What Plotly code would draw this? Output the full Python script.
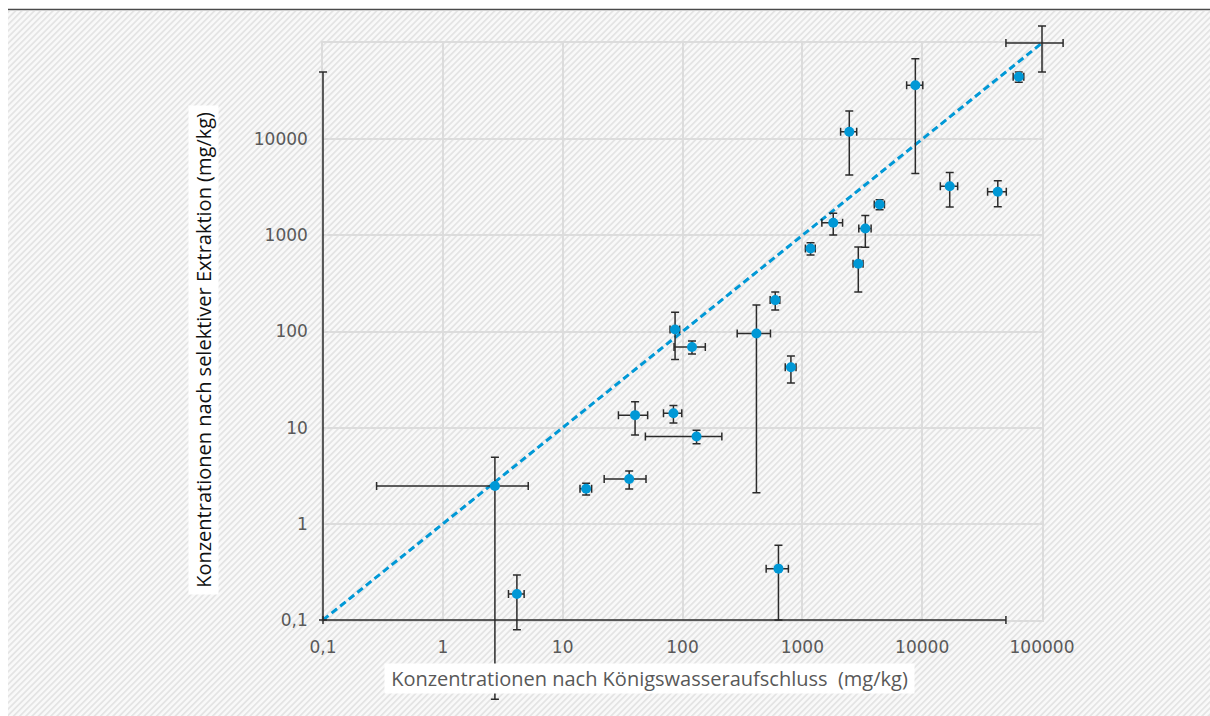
import base64
import plotly.graph_objects as go

# Königswasseraufschluss (x) vs. selektive Extraktion (y), mg/kg, mit Fehlerbalken
x_vals = [2.72, 4.15, 15.7, 131, 40.2, 84.0, 35.9, 86.7, 120, 414, 594, 803,
          632, 1171, 1811, 2931, 3354, 2465, 4414, 8770, 16980, 42760, 63970]
x_err = [2.44, 0.62, 1.75, 82, 11, 14.6, 13.7, 8, 35, 128, 55, 83,
         133, 110, 356, 280, 395, 378, 430, 1350, 2800, 7600, 6500]
y_vals = [2.47, 0.186, 2.32, 8.1, 13.5, 14.1, 2.92, 105, 69, 95.5, 212, 42.4,
          0.342, 731, 1352, 507, 1180, 11940, 2094, 36390, 3245, 2838, 44570]
y_err_plus = [2.455, 0.107, 0.33, 1.3, 5.1, 2.95, 0.62, 54, 10.6, 93.4, 45, 13.3,
              0.256, 106, 343, 250, 430, 7700, 250, 32000, 1270, 860, 5400]
y_err_minus = [2.455, 0.107, 0.33, 1.3, 5.1, 2.95, 0.62, 54, 10.6, 93.4, 45, 13.3,
               0.242, 106, 343, 250, 430, 7700, 250, 32000, 1270, 860, 5400]

# 1:1-Linie mit ihren Fehlerbalken
line_x = [0.1, 100000]
line_y = [0.1, 100000]
line_err_plus = [50000, 50000]
line_err_minus = [0, 50000]

x_tickvals = [0.1, 1, 10, 100, 1000, 10000, 100000]
x_ticktext = ["0,1", "1", "10", "100", "1000", "10000", "100000"]
y_tickvals = [0.1, 1, 10, 100, 1000, 10000]
y_ticktext = ["0,1", "1", "10", "100", "1000", "10000"]

NBSP = "\u00a0"
x_title = NBSP + "Konzentrationen nach Königswasseraufschluss" + NBSP + " (mg/kg)" + NBSP
y_title = NBSP + "Konzentrationen nach selektiver Extraktion (mg/kg)" + NBSP

W, H = 1210, 716
BLUE = "#0098D6"
BAR = "#2b2b2b"
GRID = "#dcdcdc"

# plot area (log10 ranges) and its placement on the page
X_RANGE, Y_RANGE = [-1, 5], [-1, 5]
X_DOM = [323 / W, 1042 / W]
Y_DOM = [(H - 620) / H, (H - 43) / H]


def full_page_range(rng, dom):
    """Range of an axis spanning the whole page with the same scale as rng on dom."""
    span = (rng[1] - rng[0]) / (dom[1] - dom[0])
    return [rng[0] - dom[0] * span, rng[1] + (1 - dom[1]) * span]


# diagonal hatched backdrop
hw, hh = 1202, 705
svg = (
    f'<svg xmlns="http://www.w3.org/2000/svg" width="{hw}" height="{hh}">'
    '<defs><pattern id="h" width="4.4" height="4.4" patternUnits="userSpaceOnUse" '
    'patternTransform="rotate(45)">'
    '<rect width="4.4" height="4.4" fill="#f9f9f9"/>'
    '<rect width="1.8" height="4.4" fill="#e4e4e4"/>'
    '</pattern></defs>'
    f'<rect width="{hw}" height="{hh}" fill="url(#h)"/></svg>'
)
hatch_uri = "data:image/svg+xml;base64," + base64.b64encode(svg.encode()).decode()

fig = go.Figure()

# 1:1 line inside the frame
fig.add_trace(go.Scatter(
    x=line_x, y=line_y, mode="lines", xaxis="x", yaxis="y",
    line=dict(color=BLUE, width=3, dash="7px,4px"),
    hoverinfo="skip", showlegend=False,
))

# error bars and points live on a page-wide overlay axis pair so they may run past the frame
fig.add_trace(go.Scatter(
    x=line_x, y=line_y, mode="lines", xaxis="x2", yaxis="y2",
    line=dict(color="rgba(0,0,0,0)", width=0),
    error_x=dict(type="data", symmetric=False, array=line_err_plus,
                 arrayminus=line_err_minus, color=BAR, thickness=1.5, width=4),
    error_y=dict(type="data", symmetric=False, array=line_err_plus,
                 arrayminus=line_err_minus, color=BAR, thickness=1.5, width=4),
    hoverinfo="skip", showlegend=False,
))

fig.add_trace(go.Scatter(
    x=x_vals, y=y_vals, mode="markers", xaxis="x2", yaxis="y2",
    marker=dict(color=BLUE, size=10, line=dict(width=0)),
    error_x=dict(type="data", array=x_err, color=BAR, thickness=1.5, width=4),
    error_y=dict(type="data", symmetric=False, array=y_err_plus,
                 arrayminus=y_err_minus, color=BAR, thickness=1.5, width=4),
    showlegend=False,
))

tick_font = dict(family="DejaVu Sans", size=17, color="#595959")

fig.update_layout(
    xaxis=dict(
        type="log", range=X_RANGE, domain=X_DOM, anchor="y", visible=True,
        tickvals=x_tickvals, ticktext=x_ticktext, tickfont=tick_font,
        ticks="", ticklabelstandoff=11, automargin=False,
        showgrid=True, gridcolor=GRID, gridwidth=1.5,
        showline=True, mirror=True, linecolor=GRID, linewidth=1.5,
        zeroline=False,
    ),
    yaxis=dict(
        type="log", range=Y_RANGE, domain=Y_DOM, anchor="x", visible=True,
        tickvals=y_tickvals, ticktext=y_ticktext, tickfont=tick_font,
        ticks="", ticklabelstandoff=10, automargin=False,
        showgrid=True, gridcolor=GRID, gridwidth=1.5,
        showline=True, mirror=True, linecolor=GRID, linewidth=1.5,
        zeroline=False,
    ),
    xaxis2=dict(type="log", range=full_page_range(X_RANGE, X_DOM), domain=[0, 1],
                anchor="y2", visible=False, automargin=False),
    yaxis2=dict(type="log", range=full_page_range(Y_RANGE, Y_DOM), domain=[0, 1],
                anchor="x2", visible=False, automargin=False),
)

fig.update_layout(
    width=W, height=H,
    margin=dict(l=0, r=0, t=0, b=0, autoexpand=False),
    paper_bgcolor="white", plot_bgcolor="rgba(0,0,0,0)",
    images=[dict(source=hatch_uri, xref="paper", yref="paper",
                 x=8 / W, y=1 - 11 / H, sizex=hw / W, sizey=hh / H,
                 xanchor="left", yanchor="top", sizing="stretch", layer="below")],
    shapes=[dict(type="line", xref="paper", yref="paper",
                 x0=8 / W, x1=1, y0=1 - 9.5 / H, y1=1 - 9.5 / H,
                 line=dict(color="#4a4a4a", width=1.5))],
    annotations=[
        dict(text=x_title, xref="paper", yref="paper",
             x=649.5 / W, y=1 - 678 / H, xanchor="center", yanchor="middle",
             showarrow=False, bgcolor="white", borderpad=1,
             font=dict(family="Open Sans", size=20, color="#595959")),
        dict(text=y_title, xref="paper", yref="paper", textangle=-90,
             x=203 / W, y=1 - 350 / H, xanchor="center", yanchor="middle",
             showarrow=False, bgcolor="white", borderpad=1,
             font=dict(family="Open Sans", size=20, color="#111111")),
    ],
)

fig.write_html("out.html")
